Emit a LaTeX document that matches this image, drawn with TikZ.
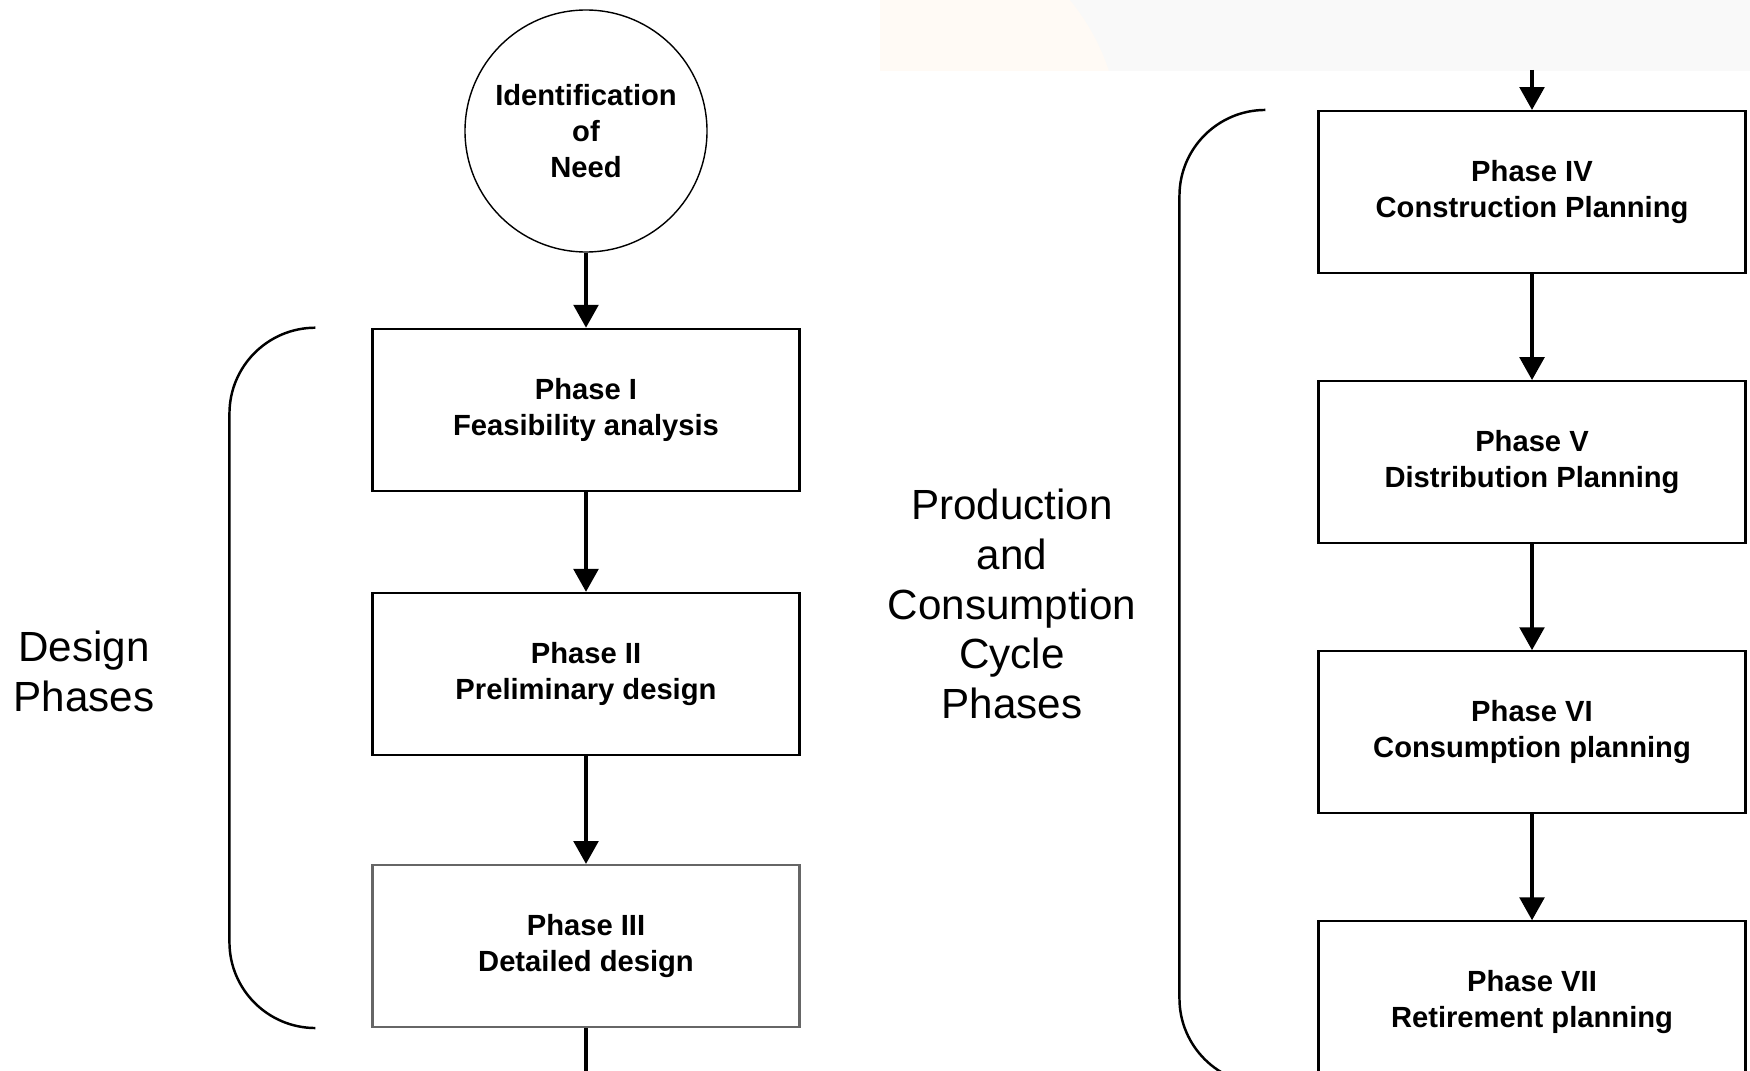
\documentclass[tikz,border=0pt]{standalone}
\usepackage{fontspec}
\setmainfont{Liberation Sans}
\usetikzlibrary{positioning,arrows.meta,calc}
\newcommand{\phasefont}{\fontsize{8.3}{10.2}\selectfont\bfseries}
\newcommand{\sidefont}{\fontsize{12}{14.2}\selectfont}
\tikzset{
  need/.style   = {draw, circle, line width=0.4pt, align=center, minimum size=2.42cm,
                   inner sep=0pt, font=\phasefont},
  phase/.style  = {draw, line width=0.6pt, align=center, minimum height=1.62cm,
                   minimum width=4.27cm, font=\phasefont},
  side/.style   = {align=center, font=\sidefont},
  arrow/.style  = {-{Triangle[length=6.5pt,width=7pt]}, line width=1pt},
  brace/.style  = {line width=0.7pt},
}

\begin{document}
\begin{tikzpicture}[node distance=1.06cm]
  \useasboundingbox (0,0) rectangle (17.5,10.7);
  \clip (0,0) rectangle (17.5,10.7);
  % faint band left over from the page above
  \fill[black!2.5] (8.8,9.99) rectangle (17.5,10.7);
  \begin{scope}
    \clip (8.8,9.99) rectangle (17.5,10.7);
    \fill[orange!4] (9.0,9.3) circle (2.2);
  \end{scope}

  % design phases
  \node[need] (need) at (5.86,9.39) {Identification\\of\\Need};
  \node[phase, below=0.75cm of need] (p1) {Phase I\\Feasibility analysis};
  \node[phase, below=1.0cm of p1] (p2) {Phase II\\Preliminary design};
  \node[phase, draw=black!60, below=1.08cm of p2] (p3) {Phase III\\Detailed design};
  \coordinate (out) at (p3.south |- 0,-0.1);
  \node[side] (design) at (0.84,3.99) {Design\\Phases};

  % production and consumption phases
  \node[phase] (p4) at (15.32,8.78) {Phase IV\\Construction Planning};
  \node[phase, below=of p4] (p5) {Phase V\\Distribution Planning};
  \node[phase, below=of p5] (p6) {Phase VI\\Consumption planning};
  \node[phase, below=of p6] (p7) {Phase VII\\Retirement planning};
  \coordinate (in) at (p4.north |- 0,10.0);
  \node[side] (prod) at (10.12,4.66) {Production\\and\\Consumption\\Cycle\\Phases};

  \draw[arrow] (need) -- (p1);
  \draw[arrow] (p1) -- (p2);
  \draw[arrow] (p2) -- (p3);
  \draw[line width=1pt] (p3) -- (out);
  \draw[arrow] (in) -- (p4);
  \draw[arrow] (p4) -- (p5);
  \draw[arrow] (p5) -- (p6);
  \draw[arrow] (p6) -- (p7);

  % brackets
  \draw[brace, rounded corners=0.86cm] ($(p1.north west)+(-0.56,0)$)
    -| ($(p3.south west)+(-1.42,0)$) -- ($(p3.south west)+(-0.56,0)$);
  \draw[brace, rounded corners=0.86cm] ($(p4.north west)+(-0.52,0)$)
    -| ($(p7.south west)+(-1.38,0)$) -- ($(p7.south west)+(-0.52,0)$);
\end{tikzpicture}
\end{document}
